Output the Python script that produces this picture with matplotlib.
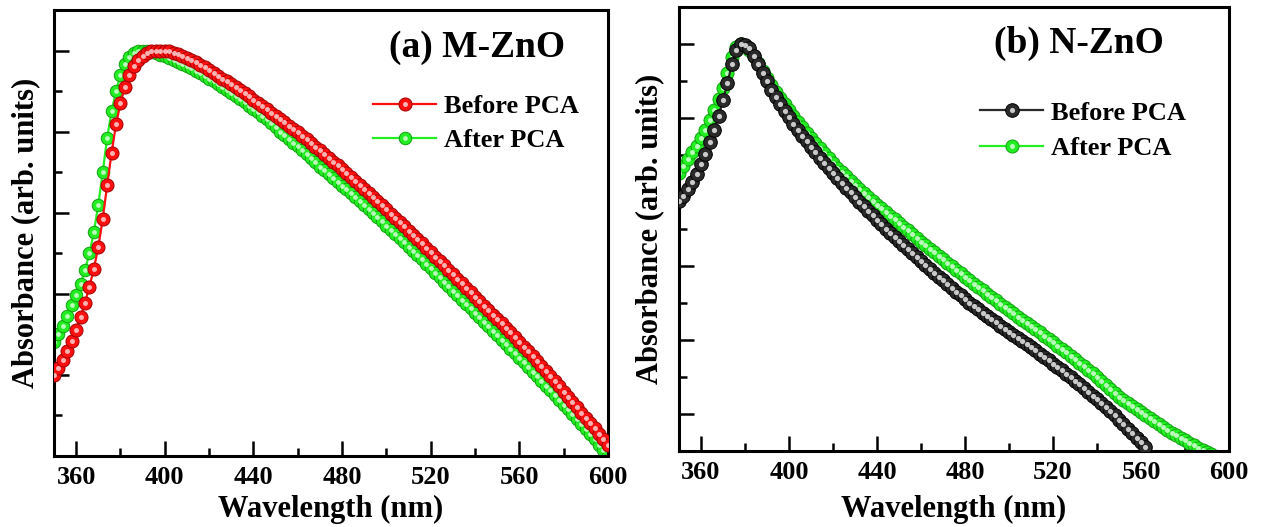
import matplotlib
matplotlib.use("Agg")
import matplotlib.pyplot as plt
from matplotlib.lines import Line2D
from matplotlib.ticker import MultipleLocator

plt.rcParams['font.family'] = ['Liberation Serif', 'DejaVu Serif']
plt.rcParams['font.weight'] = 'bold'

# wavelength grid of the spectra (nm), one point every 2 nm
wavelength = list(range(350, 601, 2))

# (a) M-ZnO, normalised absorbance
mzno_before = [
    0.200, 0.218, 0.236, 0.258, 0.283, 0.312, 0.343, 0.378, 0.418, 0.462,
    0.515, 0.585, 0.668, 0.748, 0.818, 0.870, 0.910, 0.940, 0.961, 0.976,
    0.987, 0.994, 0.998, 1.000, 1.000, 1.000, 0.998, 0.995, 0.991, 0.987,
    0.982, 0.977, 0.971, 0.965, 0.959, 0.952, 0.945, 0.938, 0.931, 0.924,
    0.917, 0.910, 0.902, 0.895, 0.887, 0.879, 0.871, 0.863, 0.855, 0.847,
    0.839, 0.831, 0.823, 0.815, 0.807, 0.799, 0.790, 0.781, 0.772, 0.763,
    0.754, 0.745, 0.736, 0.726, 0.717, 0.707, 0.698, 0.688, 0.679, 0.669,
    0.659, 0.649, 0.639, 0.629, 0.619, 0.608, 0.598, 0.588, 0.577, 0.567,
    0.556, 0.546, 0.535, 0.525, 0.514, 0.503, 0.492, 0.481, 0.470, 0.459,
    0.448, 0.437, 0.426, 0.415, 0.404, 0.393, 0.382, 0.371, 0.360, 0.349,
    0.338, 0.327, 0.316, 0.305, 0.294, 0.282, 0.270, 0.258, 0.246, 0.234,
    0.222, 0.209, 0.197, 0.184, 0.172, 0.159, 0.146, 0.133, 0.120, 0.107,
    0.094, 0.081, 0.068, 0.055, 0.041, 0.028,
]
mzno_after = [
    0.280, 0.300, 0.320, 0.345, 0.372, 0.398, 0.425, 0.458, 0.500, 0.552,
    0.620, 0.700, 0.785, 0.850, 0.900, 0.940, 0.966, 0.983, 0.993, 0.999,
    1.000, 0.999, 0.997, 0.994, 0.990, 0.986, 0.982, 0.977, 0.972, 0.967,
    0.962, 0.956, 0.950, 0.944, 0.938, 0.931, 0.924, 0.917, 0.910, 0.903,
    0.896, 0.888, 0.880, 0.872, 0.864, 0.856, 0.848, 0.839, 0.830, 0.821,
    0.811, 0.800, 0.791, 0.782, 0.773, 0.764, 0.754, 0.744, 0.734, 0.724,
    0.714, 0.705, 0.696, 0.686, 0.677, 0.667, 0.658, 0.648, 0.639, 0.629,
    0.619, 0.609, 0.599, 0.589, 0.579, 0.568, 0.558, 0.548, 0.537, 0.527,
    0.516, 0.506, 0.495, 0.485, 0.474, 0.463, 0.452, 0.441, 0.430, 0.419,
    0.408, 0.397, 0.386, 0.375, 0.364, 0.353, 0.342, 0.331, 0.320, 0.309,
    0.298, 0.287, 0.276, 0.265, 0.254, 0.242, 0.231, 0.219, 0.208, 0.197,
    0.185, 0.173, 0.162, 0.150, 0.139, 0.127, 0.115, 0.103, 0.091, 0.079,
    0.067, 0.054, 0.041, 0.028, 0.014, 0.000,
]

# (b) N-ZnO, normalised absorbance
nzno_before = [
    0.575, 0.590, 0.607, 0.626, 0.649, 0.675, 0.704, 0.734, 0.767, 0.805,
    0.848, 0.895, 0.945, 0.985, 1.000, 0.998, 0.988, 0.968, 0.945, 0.922,
    0.899, 0.877, 0.857, 0.838, 0.820, 0.802, 0.785, 0.768, 0.752, 0.737,
    0.722, 0.707, 0.693, 0.679, 0.665, 0.652, 0.638, 0.625, 0.612, 0.599,
    0.586, 0.573, 0.561, 0.549, 0.537, 0.525, 0.513, 0.501, 0.490, 0.479,
    0.468, 0.457, 0.446, 0.435, 0.424, 0.413, 0.402, 0.391, 0.381, 0.371,
    0.361, 0.351, 0.341, 0.331, 0.321, 0.311, 0.301, 0.292, 0.283, 0.274,
    0.265, 0.256, 0.248, 0.239, 0.230, 0.222, 0.214, 0.206, 0.198, 0.190,
    0.181, 0.172, 0.163, 0.154, 0.145, 0.136, 0.127, 0.118, 0.109, 0.100,
    0.090, 0.080, 0.070, 0.060, 0.050, 0.040, 0.029, 0.018, 0.007, -0.004,
    -0.016, -0.028, -0.040, -0.052, -0.064, -0.077, -0.090,
]
nzno_after = [
    0.652, 0.670, 0.690, 0.708, 0.725, 0.745, 0.768, 0.794, 0.822, 0.851,
    0.882, 0.922, 0.965, 0.992, 1.000, 0.995, 0.984, 0.967, 0.948, 0.928,
    0.908, 0.889, 0.871, 0.854, 0.838, 0.822, 0.806, 0.790, 0.775, 0.760,
    0.746, 0.732, 0.718, 0.705, 0.692, 0.679, 0.666, 0.654, 0.642, 0.630,
    0.619, 0.608, 0.597, 0.586, 0.576, 0.566, 0.556, 0.546, 0.536, 0.526,
    0.516, 0.506, 0.496, 0.486, 0.476, 0.466, 0.456, 0.446, 0.437, 0.427,
    0.418, 0.409, 0.399, 0.390, 0.380, 0.371, 0.361, 0.352, 0.343, 0.334,
    0.325, 0.316, 0.307, 0.298, 0.289, 0.280, 0.272, 0.263, 0.255, 0.246,
    0.238, 0.229, 0.221, 0.212, 0.203, 0.194, 0.185, 0.176, 0.167, 0.157,
    0.148, 0.138, 0.129, 0.119, 0.110, 0.100, 0.089, 0.078, 0.067, 0.056,
    0.045, 0.037, 0.029, 0.021, 0.013, 0.005, -0.003, -0.011, -0.019, -0.027,
    -0.035, -0.043, -0.050, -0.057, -0.064, -0.071, -0.078, -0.085, -0.091, -0.097,
    -0.103, -0.109,
]

xticks = [360, 400, 440, 480, 520, 560, 600]
legend_labels = ["Before PCA", "After PCA"]


def draw_balls(ax, y, face, edge, shine, size, z):
    # line + ball markers with a small highlight so they look like beads
    x = wavelength[:len(y)]
    ax.plot(x, y, '-', color=face, lw=1.6, zorder=z)
    ax.plot(x, y, 'o', ls='none', ms=size, mfc=face, mec=edge, mew=0.7, zorder=z + 0.1)
    ax.plot(x, y, 'o', ls='none', ms=size * 0.38, mfc=shine, mec='none', alpha=0.85, zorder=z + 0.2)
    h1 = Line2D([], [], color=face, lw=1.6, marker='o', ms=size, mfc=face, mec=edge, mew=0.7)
    h2 = Line2D([], [], ls='none', marker='o', ms=size * 0.38, mfc=shine, mec='none', alpha=0.85)
    return (h1, h2)


def style_axes(ax, ymin, ymax):
    ax.set_xlim(350, 600)
    ax.set_ylim(ymin, ymax)
    ax.set_xticks(xticks)
    ax.xaxis.set_minor_locator(MultipleLocator(20))
    ax.yaxis.set_major_locator(MultipleLocator(0.2))
    ax.yaxis.set_minor_locator(MultipleLocator(0.1))
    ax.tick_params(which='major', direction='in', length=11, width=1.8, labelsize=19, pad=7)
    ax.tick_params(which='minor', direction='in', length=6, width=1.8)
    ax.tick_params(axis='y', which='both', labelleft=False)
    for s in ax.spines.values():
        s.set_linewidth(2.2)
    ax.set_xlabel("Wavelength (nm)", fontsize=22, fontweight='bold')
    ax.set_ylabel("Absorbance (arb. units)", fontsize=22, fontweight='bold')


fig = plt.figure(figsize=(12.61, 5.27), dpi=100)
ax1 = fig.add_axes([0.0428, 0.1347, 0.4393, 0.8463])
ax2 = fig.add_axes([0.5385, 0.1442, 0.4362, 0.8425])

# panel (a)
g1 = draw_balls(ax1, mzno_after, '#22ee22', '#11a011', '#d8ffd8', 9.0, 2)
r1 = draw_balls(ax1, mzno_before, '#ff1010', '#a00000', '#ffd0d0', 9.4, 3)
style_axes(ax1, 0, 1.1)
ax1.xaxis.set_label_coords(0.5, -0.088)
ax1.yaxis.set_label_coords(-0.024, 0.5)
ax1.text(0.7635, 0.917, "(a) M-ZnO", transform=ax1.transAxes, fontsize=27,
         fontweight='bold', ha='center', va='center')
ax1.legend([r1, g1], legend_labels, loc='center left', bbox_to_anchor=(0.576, 0.7455),
           frameon=False, fontsize=19, handlelength=2.4, handletextpad=0.3,
           labelspacing=0.4, borderpad=0, borderaxespad=0)

# panel (b)
g2 = draw_balls(ax2, nzno_after, '#22ee22', '#11a011', '#d8ffd8', 9.4, 2)
k2 = draw_balls(ax2, nzno_before, '#2a2a2a', '#000000', '#e8e8e8', 9.8, 3)
style_axes(ax2, -0.1, 1.1)
ax2.xaxis.set_label_coords(0.5, -0.099)
ax2.yaxis.set_label_coords(-0.027, 0.5)
ax2.text(0.727, 0.917, "(b) N-ZnO", transform=ax2.transAxes, fontsize=27,
         fontweight='bold', ha='center', va='center')
ax2.legend([k2, g2], legend_labels, loc='center left', bbox_to_anchor=(0.547, 0.722),
           frameon=False, fontsize=19, handlelength=2.4, handletextpad=0.3,
           labelspacing=0.45, borderpad=0, borderaxespad=0)

fig.savefig("out.png", dpi=100)
